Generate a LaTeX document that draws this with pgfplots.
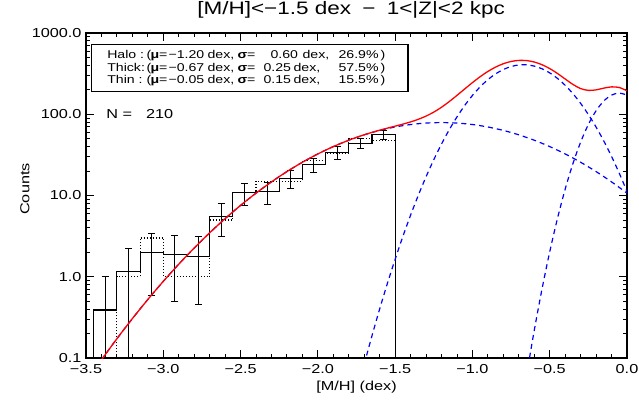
\documentclass[border=0pt]{standalone}
\usepackage{pgfplots}
\pgfplotsset{compat=1.18}
\usepackage{pgfplotstable}
\usepackage{fontspec}
\setmainfont{Liberation Sans}[FakeStretch=1.25]

% bin centre, value, error plus, error minus
\pgfplotstableread{
x y ep em
-3.375 0.39 0.62 0.38
-3.225 1.16 1.08 1.08
-3.075 1.99 1.41 1.41
-2.925 1.87 1.37 1.37
-2.775 1.78 1.33 1.33
-2.625 5.52 2.35 2.35
-2.475 10.9 3.30 3.30
-2.325 11.2 3.35 3.35
-2.175 16.1 4.01 4.01
-2.025 23.9 4.89 4.89
-1.875 33.9 5.82 5.82
-1.725 44.2 6.65 6.65
-1.575 56.0 7.48 7.48
}\errtab

% solid histogram (left bin edges)
\pgfplotstableread{
x y
-3.45 0.01
-3.45 0.39
-3.30 1.16
-3.15 1.99
-3.00 1.87
-2.85 1.78
-2.70 5.52
-2.55 10.9
-2.40 11.2
-2.25 16.1
-2.10 23.9
-1.95 33.9
-1.80 44.2
-1.65 56.0
-1.50 0.01
}\solidtab

% dotted histogram (raw counts, left bin edges)
\pgfplotstableread{
x y
-3.30 0.01
-3.30 1
-3.15 3
-3.00 1
-2.85 1
-2.70 5
-2.55 11
-2.40 15
-2.25 15
-2.10 27
-1.95 33
-1.80 50
-1.65 48
-1.50 0.01
}\dottab

\newcommand{\at}[2]{\makebox[0pt][l]{\hspace{#1}#2}}

\begin{document}
\begin{tikzpicture}
\begin{axis}[
  scale only axis, width=541bp, height=325bp,
  xmin=-3.5, xmax=0, ymode=log, ymin=0.1, ymax=1000,
  xtick={-3.5,-3,...,0},
  xticklabels={−3.5,−3.0,−2.5,−2.0,−1.5,−1.0,−0.5,0.0},
  minor x tick num=4,
  ytick={0.1,1,10,100,1000},
  yticklabels={0.1,1.0,10.0,100.0,1000.0},
  tick align=inside, tick pos=both,
  major tick length=8bp, minor tick length=4bp,
  axis line style={line width=1.3bp},
  every tick/.style={black, line width=0.9bp},
  tick label style={font=\fontsize{13bp}{15bp}\selectfont},
  xticklabel style={yshift=-3bp},
  yticklabel style={xshift=-1bp},
  xlabel={[M/H] (dex)},
  ylabel={Counts},
  label style={font=\fontsize{13bp}{15bp}\selectfont},
  xlabel style={at={(axis description cs:0.5,-0.089)}, anchor=center},
  ylabel style={at={(axis description cs:-0.113,0.52)}, anchor=center},
  title={[M/H]<−1.5 dex \;−\; 1<|Z|<2 kpc},
  title style={font=\fontsize{18bp}{20bp}\selectfont, at={(axis description cs:0.49,1.052)}, anchor=center},
]
\addplot[black, line width=1.1bp, const plot mark left] table {\solidtab};
\addplot[black, line width=1.1bp, dash pattern=on 1bp off 2bp, const plot mark left] table {\dottab};
\addplot[black, draw=none, mark=none,
  error bars/.cd, y dir=both, y explicit,
  error mark=|,
  error bar style={draw=black, solid, line width=1bp},
  error mark options={draw=black, solid, mark size=3.5bp, line width=1bp}]
  table[x=x, y=y, y error plus=ep, y error minus=em] {\errtab};
% halo
\addplot[blue, line width=1.2bp, dash pattern=on 5bp off 4bp, smooth] coordinates {
(-3.4,0.095)(-3.3,0.1728)(-3.2,0.3054)(-3.1,0.525)(-3.0,0.8776)(-2.9,1.427)(-2.8,2.257)(-2.7,3.471)(-2.6,5.193)(-2.5,7.555)(-2.4,10.69)(-2.3,14.71)(-2.2,19.70)(-2.1,25.65)(-2.0,32.48)(-1.9,40.00)(-1.8,47.92)(-1.7,55.82)(-1.6,63.26)(-1.5,69.72)(-1.4,74.73)(-1.3,77.91)(-1.2,79.00)(-1.1,77.91)(-1.0,74.73)(-0.9,69.72)(-0.8,63.26)(-0.7,55.82)(-0.6,47.92)(-0.5,40.00)(-0.4,32.48)(-0.3,25.65)(-0.2,19.70)(-0.1,14.71)(0.0,10.69)};
% thick
\addplot[blue, line width=1.2bp, dash pattern=on 5bp off 4bp, smooth] coordinates {
(-1.70,0.0839)(-1.65,0.1874)(-1.60,0.402)(-1.55,0.8296)(-1.50,1.643)(-1.45,3.133)(-1.40,5.727)(-1.35,10.07)(-1.30,17.01)(-1.25,27.60)(-1.20,43.02)(-1.15,64.44)(-1.10,92.74)(-1.05,128.2)(-1.00,170.3)(-0.95,217.4)(-0.90,266.6)(-0.85,314.1)(-0.80,355.5)(-0.75,386.7)(-0.70,404.1)(-0.65,405.7)(-0.60,391.4)(-0.55,362.7)(-0.50,323.0)(-0.45,276.3)(-0.40,227.2)(-0.35,179.4)(-0.30,136.1)(-0.25,99.25)(-0.20,69.53)(-0.15,46.80)(-0.10,30.26)(-0.05,18.80)(0.00,11.22)};
% thin
\addplot[blue, line width=1.2bp, dash pattern=on 5bp off 4bp, smooth] coordinates {
(-0.65,0.0611)(-0.60,0.219)(-0.55,0.7036)(-0.50,2.022)(-0.45,5.199)(-0.40,11.96)(-0.35,24.63)(-0.30,45.38)(-0.25,74.82)(-0.20,110.4)(-0.15,145.7)(-0.10,172.2)(-0.05,182.0)(0.00,172.2)};
% total
\addplot[red, line width=1.3bp, smooth] coordinates {
(-3.4,0.095)(-3.3,0.1728)(-3.2,0.3054)(-3.1,0.525)(-3.0,0.8776)(-2.9,1.427)(-2.8,2.257)(-2.7,3.471)(-2.6,5.193)(-2.5,7.555)(-2.4,10.69)(-2.3,14.71)(-2.2,19.70)(-2.1,25.65)(-2.0,32.48)(-1.9,40.00)(-1.8,47.94)(-1.75,51.94)(-1.7,55.90)(-1.65,59.82)(-1.6,63.66)(-1.55,67.47)(-1.5,71.36)(-1.45,75.56)(-1.4,80.46)(-1.35,86.64)(-1.3,94.92)(-1.25,106.3)(-1.2,122.0)(-1.15,143.2)(-1.1,170.7)(-1.05,204.8)(-1.0,245.0)(-0.95,289.8)(-0.9,336.3)(-0.85,380.7)(-0.8,418.8)(-0.75,446.3)(-0.7,459.9)(-0.65,457.7)(-0.6,439.5)(-0.55,407.3)(-0.5,365.0)(-0.45,317.7)(-0.4,271.6)(-0.35,233.0)(-0.3,207.1)(-0.25,196.6)(-0.2,199.6)(-0.15,209.6)(-0.1,217.2)(-0.05,213.4)(0.0,194.1)};

\node[draw, line width=1.2bp, anchor=north west, fill=white, inner xsep=15.7bp, inner ysep=0bp,
  text width=285bp, minimum height=47bp, align=left,
  font=\fontsize{11.3bp}{12.4bp}\selectfont] at (rel axis cs:0.0092,0.966) {%
\at{0bp}{Halo :}\at{39.3bp}{(}\at{43.3bp}{\textbf{μ}=}\at{61.3bp}{−1.20}\at{100.3bp}{dex,}\at{130.3bp}{\textbf{σ}=}\at{163.3bp}{0.60}\at{195.3bp}{dex,}\at{231.3bp}{26.9\%}\at{273.3bp}{)}\\
\at{0bp}{Thick:}\at{39.3bp}{(}\at{43.3bp}{\textbf{μ}=}\at{61.3bp}{−0.67}\at{100.3bp}{dex,}\at{130.3bp}{\textbf{σ}=}\at{156.3bp}{0.25}\at{186.3bp}{dex,}\at{231.3bp}{57.5\%}\at{273.3bp}{)}\\
\at{0bp}{Thin :}\at{39.3bp}{(}\at{43.3bp}{\textbf{μ}=}\at{61.3bp}{−0.05}\at{100.3bp}{dex,}\at{130.3bp}{\textbf{σ}=}\at{156.3bp}{0.15}\at{186.3bp}{dex,}\at{231.3bp}{15.5\%}\at{273.3bp}{)}};

\node[anchor=west, font=\fontsize{13bp}{15bp}\selectfont] at (rel axis cs:0.031,0.751) {N =\hspace{14bp}210};
\end{axis}
\pgfresetboundingbox
\path[use as bounding box] ([xshift=-86bp,yshift=-46bp]current axis.south west) rectangle ++(639bp,404bp);
\end{tikzpicture}
\end{document}
